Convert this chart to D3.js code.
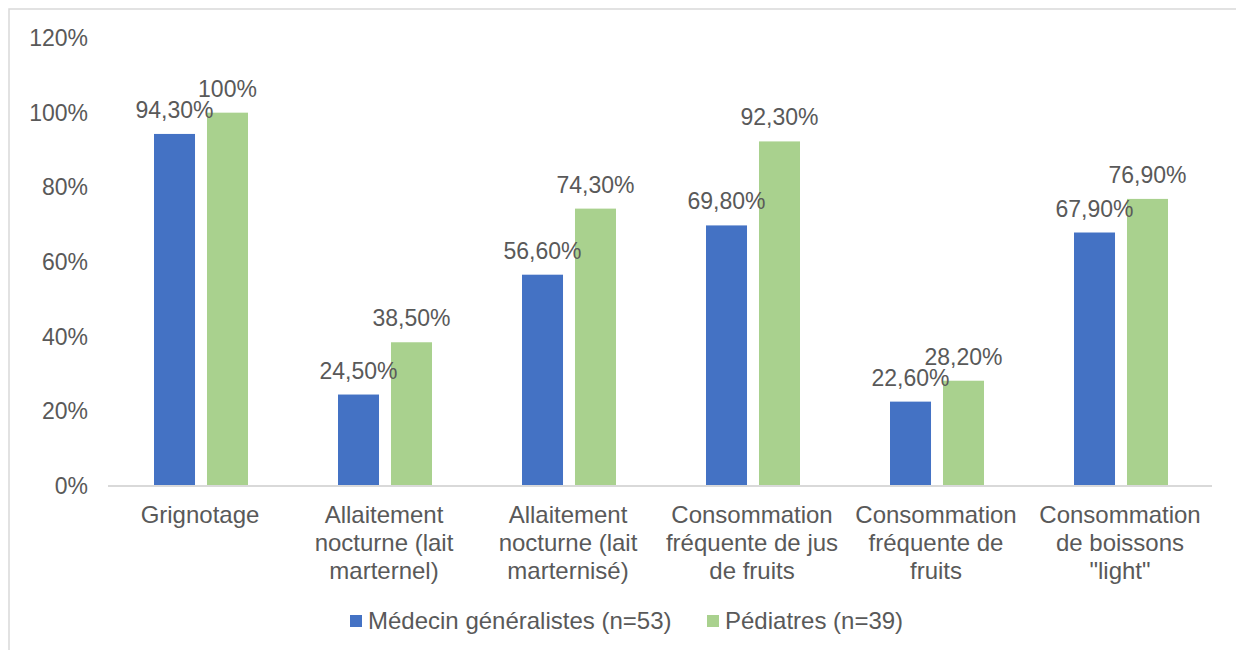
<!DOCTYPE html>
<html>
<head>
<meta charset="utf-8">
<script src="https://cdn.jsdelivr.net/npm/d3@7"></script>
<style>
body { margin: 0; background: #fff; }
svg text { font-family: "Liberation Sans", Arial, sans-serif; fill: #595959; }
</style>
</head>
<body>
<svg id="chart" width="1236" height="650"></svg>
<script>
var categories = [
  ['Grignotage'],
  ['Allaitement', 'nocturne (lait', 'marternel)'],
  ['Allaitement', 'nocturne (lait', 'marternisé)'],
  ['Consommation', 'fréquente de jus', 'de fruits'],
  ['Consommation', 'fréquente de', 'fruits'],
  ['Consommation', 'de boissons', '"light"']
];
var seriesNames = ['Médecin généralistes (n=53)', 'Pédiatres (n=39)'];
var medecins = [94.3, 24.5, 56.6, 69.8, 22.6, 67.9];
var pediatres = [100, 38.5, 74.3, 92.3, 28.2, 76.9];
var yTicks = [0, 20, 40, 60, 80, 100, 120];
var colors = ['#4472C4', '#A9D18E'];

var series = [medecins, pediatres];
var svg = d3.select('#chart');

// cadre
svg.append('rect')
  .attr('x', 9).attr('y', 9)
  .attr('width', 1300).attr('height', 700)
  .attr('fill', 'none').attr('stroke', '#d9d9d9').attr('stroke-width', 1.5);

var x0 = d3.scaleBand().domain(d3.range(categories.length)).range([108, 1212]);
var x1 = d3.scaleBand().domain([0, 1]).range([46, 140]).paddingInner(0.226);
var y = d3.scaleLinear().domain([0, 120]).range([486, 38]);

function fmt(v) {
  return (v % 1 === 0 ? v : v.toFixed(2).replace('.', ',')) + '%';
}

// axe Y (labels seulement)
svg.append('g').selectAll('text')
  .data(yTicks)
  .enter().append('text')
  .attr('x', 88)
  .attr('y', function(d) { return y(d); })
  .attr('dy', '0.35em')
  .style('text-anchor', 'end')
  .style('font-size', '23px')
  .text(function(d) { return d + '%'; });

// barres
var groups = svg.append('g').selectAll('g')
  .data(categories)
  .enter().append('g')
  .attr('transform', function(d, i) { return 'translate(' + x0(i) + ',0)'; });

groups.selectAll('rect')
  .data(function(d, i) { return series.map(function(s, k) { return {k: k, v: s[i]}; }); })
  .enter().append('rect')
  .attr('x', function(d) { return x1(d.k); })
  .attr('y', function(d) { return y(d.v); })
  .attr('width', x1.bandwidth())
  .attr('height', function(d) { return y(0) - y(d.v); })
  .attr('fill', function(d) { return colors[d.k]; });

groups.selectAll('text.val')
  .data(function(d, i) { return series.map(function(s, k) { return {k: k, v: s[i]}; }); })
  .enter().append('text')
  .attr('class', 'val')
  .attr('x', function(d) { return x1(d.k) + x1.bandwidth() / 2; })
  .attr('y', function(d) { return y(d.v) - 16; })
  .style('text-anchor', 'middle')
  .style('font-size', '23px')
  .text(function(d) { return fmt(d.v); });

// ligne de base
svg.append('line')
  .attr('x1', 108).attr('x2', 1212)
  .attr('y1', y(0)).attr('y2', y(0))
  .attr('stroke', '#d9d9d9').attr('stroke-width', 2);

// labels catégories
groups.append('text')
  .attr('x', x0.bandwidth() / 2)
  .attr('y', 523)
  .style('text-anchor', 'middle')
  .style('font-size', '24px')
  .selectAll('tspan')
  .data(function(d) { return d; })
  .enter().append('tspan')
  .attr('x', x0.bandwidth() / 2)
  .attr('dy', function(d, i) { return i === 0 ? 0 : 28; })
  .text(function(d) { return d; });

// légende
var legendX = [350, 707];
var legend = svg.append('g').selectAll('g')
  .data(seriesNames)
  .enter().append('g')
  .attr('transform', function(d, i) { return 'translate(' + legendX[i] + ',0)'; });
legend.append('rect')
  .attr('x', 0).attr('y', 615)
  .attr('width', 12).attr('height', 12)
  .attr('fill', function(d, i) { return colors[i]; });
legend.append('text')
  .attr('x', 18).attr('y', 629)
  .style('font-size', '24px')
  .text(function(d) { return d; });
</script>
</body>
</html>
